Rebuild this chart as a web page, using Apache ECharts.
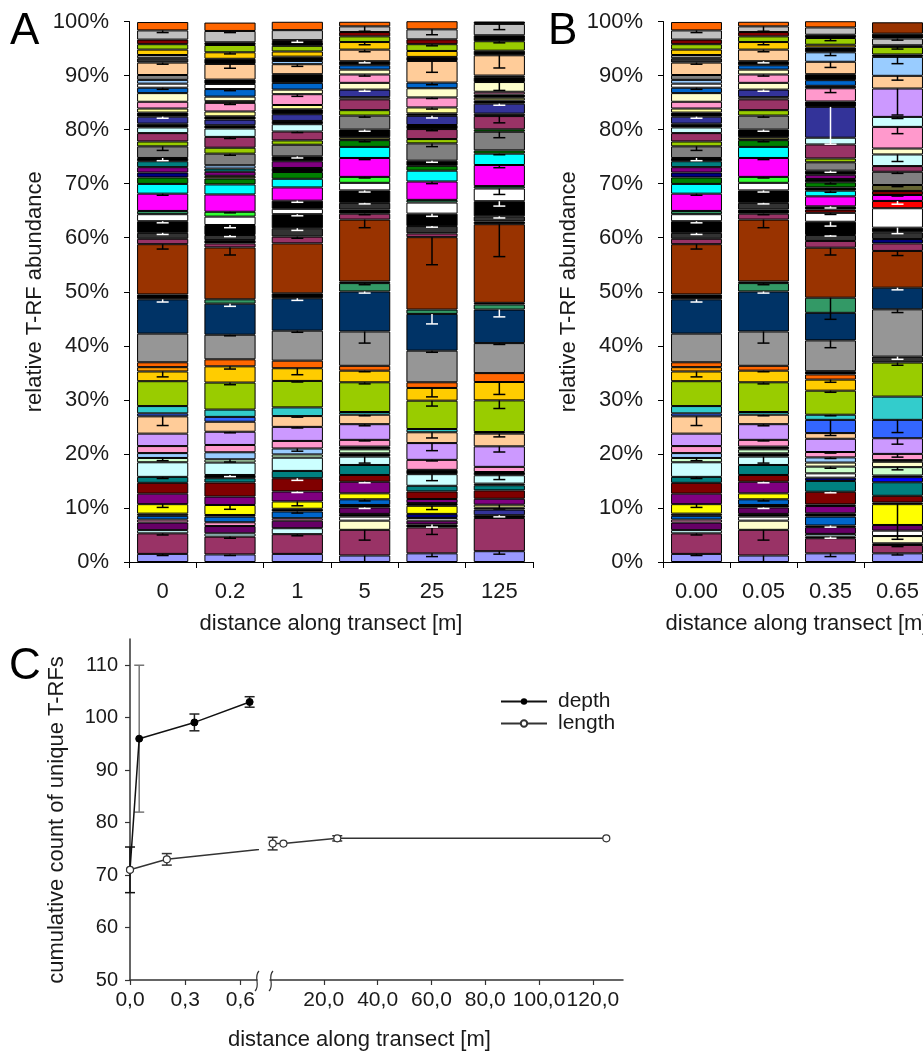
<!DOCTYPE html>
<html>
<head>
<meta charset="utf-8">
<script src="https://cdn.jsdelivr.net/npm/echarts@6/dist/echarts.min.js"></script>
<style>html,body{margin:0;padding:0;background:#fff}#main{width:923px;height:1056px}</style>
</head>
<body>
<div id="main"></div>
<script>
// ---------- DATA ----------
// Panel A: distance along transect (length)
const catsA = ['0', '0.2', '1', '5', '25', '125'];
// Panel B: distance along transect (depth)
const catsB = ['0.00', '0.05', '0.35', '0.65'];

// T-RF colour codes per bar (bottom -> top) and relative abundances [%]
const ids_0 = ['lav','mar','lcy','dpu','pnk','blu','blk','yel','pur','drd','tea','lcy','lgr','lbl','pnk','lil','pea','rbl','tur','ygr','gld','org','ong','gry','nav','blk','brn','mar','dgy','blk','wht','sgr','mag','cyn','grn','nvy','pur','tea','blk','gr8','ygr','mar','lcy','blk','ind','blk','lye','pnk','cre','blu','wht','lbl','gr8','pea','dgy','gry','gld','ygr','drd','sil','ong'];
const val_0 = [1.5,3.8,0.6,1.4,0.55,0.7,0.4,1.75,1.95,2.0,1.1,2.7,0.8,0.9,1.3,2.3,3.2,0.55,1.35,4.6,1.8,0.8,0.9,5.3,6.35,0.9,9.3,1.0,1.1,2.15,1.3,0.6,3.2,1.8,1.2,0.9,1.0,1.1,0.6,2.15,0.9,1.55,1.05,0.7,1.3,0.75,0.75,1.25,1.6,1.0,0.75,0.7,0.9,2.3,0.8,0.6,1.0,1.0,0.85,1.7,1.55];
// error bars: segment index -> SD [%]
const err_0 = {0:0.3, 1:0.3, 7:0.6, 10:0.3, 12:0.5, 16:1.7, 20:1.0, 24:0.5, 26:0.9, 28:0.3, 29:0.3, 32:0.3, 38:0.5, 39:0.75, 44:0.3, 49:0.3, 53:0.3, 59:0.4};

const ids_02 = ['lav','mar','lcy','dpu','pnk','blu','blk','yel','pur','drd','tea','blk','lcy','lgr','lbl','pnk','lil','pea','rbl','tur','ygr','gld','ong','gry','nav','sgr','brn','mar','blk','dgy','blk','wht','lgn','mag','cyn','grn','olv','pur','tea','lbl','gr8','ygr','mar','lcy','blk','ind','blk','lye','pnk','blk','cre','blu','wht','blk','pea','blk','gld','ygr','blk','sil','ong'];
const val_02 = [1.4,3.3,0.6,1.35,0.7,1.05,0.3,1.85,1.55,2.6,0.8,0.6,2.3,0.6,1.3,1.35,2.45,1.85,0.9,1.35,5.0,3.0,1.3,4.55,5.75,0.8,9.6,0.75,0.6,0.95,1.85,1.55,0.9,3.2,1.85,1.1,0.5,0.75,0.6,0.6,2.15,1.1,2.0,1.55,0.6,1.05,0.6,0.9,1.6,0.3,0.85,1.4,0.95,0.8,2.9,0.95,1.2,1.35,0.5,2.1,1.55];
const err_02 = {0:0.2, 1:0.3, 7:0.8, 11:0.3, 13:0.5, 16:0.2, 20:0.4, 21:0.5, 23:0.2, 24:0.5, 26:1.4, 29:0.3, 30:0.5, 32:0.2, 40:0.3, 42:0.3, 48:0.3, 51:0.3, 54:0.8, 56:0.3, 59:0.3};

const ids_1 = ['lav','mar','lcy','dpu','pnk','blu','blk','yel','pur','drd','tea','lcy','lgr','lbl','pnk','lil','pea','tur','ygr','gld','ong','gry','nav','blk','brn','mar','dgy','blk','wht','blk','mag','cyn','grn','blk','pur','blk','gr8','ygr','mar','lcy','blk','ind','blk','lye','pnk','cre','blu','blk','pea','lbl','blk','gld','ygr','blk','drd','sil','ong'];
const val_1 = [1.5,3.65,1.1,1.4,0.45,1.25,0.5,1.35,1.85,2.45,1.35,2.45,0.6,1.1,1.4,2.6,2.0,1.6,4.9,2.35,1.4,5.55,6.0,0.9,9.25,1.25,1.55,2.6,1.0,1.5,2.45,1.6,1.25,0.75,1.25,0.9,2.15,0.8,1.65,1.35,0.6,1.25,0.9,0.8,2.0,0.85,1.25,1.6,1.85,0.6,0.8,0.95,1.05,0.7,0.35,1.85,1.55];
const err_1 = {1:0.3, 5:0.3, 7:0.8, 8:0.2, 9:0.4, 13:0.5, 15:0.2, 16:0.2, 18:0.2, 19:1.2, 21:0.3, 22:0.4, 25:0.3, 26:0.4, 27:0.3, 29:0.3, 35:0.3, 38:0.2, 44:0.4, 48:0.4, 54:0.4};

const ids_5 = ['lav','mar','cre','wht','blk','dpu','blk','blu','yel','pur','drd','tea','lcy','blk','lgr','blk','pnk','lil','pea','tur','ygr','gld','ong','gry','nav','sgr','blk','brn','mar','blk','dgy','blk','wht','lgn','mag','cyn','grn','olv','blk','gr8','ygr','mar','wht','ind','cre','pnk','cre','blu','blk','pea','gld','ygr','drd','sil','ong'];
const val_5 = [1.2,4.75,1.7,0.75,0.5,1.2,0.45,1.05,1.1,2.15,1.25,1.85,1.55,0.6,0.75,0.5,1.25,2.9,1.75,0.5,5.5,2.15,0.9,6.35,7.4,1.55,0.3,11.45,1.1,0.75,1.25,2.3,1.4,1.1,3.5,2.05,1.25,0.55,1.4,2.6,1.0,2.0,0.4,1.4,1.25,1.55,0.9,0.8,0.75,2.15,1.4,1.05,0.8,1.05,0.85];
const err_5 = {0:1.2, 1:1.9, 5:0.2, 7:0.3, 9:0.2, 12:1.2, 16:0.2, 17:0.3, 18:0.2, 20:0.3, 21:0.2, 23:2.15, 24:0.3, 25:0.3, 27:1.5, 28:0.2, 30:0.2, 31:0.3, 33:0.2, 34:0.3, 36:0.3, 38:0.3, 39:0.3, 43:0.3, 45:0.3, 48:0.3, 49:0.4, 50:0.5, 53:0.9};

const ids_25 = ['lav','mar','blk','dpu','wht','nvy','yel','blk','pur','drd','tea','lcy','blk','pnk','lil','pea','tur','ygr','gld','ong','gry','nav','sgr','brn','mar','dgy','blk','wht','sgr','mag','cyn','grn','blk','gr8','ygr','mar','blk','ind','blk','lye','pnk','cre','blu','pea','blk','gld','ygr','drd','sil','ong'];
const val_25 = [1.6,4.8,0.55,0.7,0.5,0.75,1.5,0.5,0.75,1.4,1.05,2.15,0.8,1.85,3.1,2.0,0.6,5.25,2.35,1.05,5.85,6.8,0.8,13.4,0.7,1.35,2.3,2.05,0.5,3.4,2.0,0.9,0.95,3.2,0.8,1.85,0.75,1.7,0.45,1.1,1.85,1.7,1.05,4.0,0.75,1.1,1.25,0.9,1.85,1.5];
const err_25 = {0:0.6, 1:1.3, 2:0.5, 6:0.7, 11:1.2, 13:0.2, 14:1.4, 15:1.05, 17:1.0, 18:1.65, 20:0.3, 21:1.85, 23:5.1, 25:0.2, 26:0.5, 29:0.4, 32:0.3, 33:0.6, 35:0.3, 37:0.4, 39:0.3, 40:0.2, 42:0.4, 43:2.1, 46:0.3, 48:1.0};

const ids_125 = ['lav','mar','blk','ind','blk','lye','pur','drd','tea','blk','lcy','blk','pnk','lil','pea','blk','ygr','gld','ong','gry','nav','sgr','blk','brn','blk','dgy','blk','wht','sgr','mag','cyn','grn','gr8','grn','mar','blk','ind','blk','lye','blk','pnk','cre','blk','gry','pea','blk','ygr','blk','sil','blk'];
const val_125 = [2.0,6.15,0.5,1.05,0.35,0.55,1.1,1.55,0.95,0.3,1.55,0.6,0.95,3.8,2.35,0.3,5.85,3.4,1.65,5.55,6.2,0.95,0.3,14.55,0.5,0.95,2.8,2.35,0.45,3.9,2.1,0.6,3.45,0.45,2.45,0.45,1.85,0.6,0.5,0.6,0.5,1.8,0.9,0.3,3.75,0.85,1.75,1.1,2.1,0.45];
const err_125 = {0:0.55, 2:0.3, 5:0.8, 10:0.8, 13:1.05, 14:0.6, 16:1.5, 17:2.3, 19:0.25, 20:1.35, 23:6.0, 25:0.3, 26:0.9, 27:1.1, 29:0.5, 30:0.2, 32:1.1, 34:1.25, 36:0.3, 41:1.55, 44:2.35, 46:0.3, 48:1.05};

// depth samples (0.00 and 0.05 m bars look identical to the 0 m and 5 m bars)
const ids_d000 = ids_0, val_d000 = val_0, err_d000 = err_0;
const ids_d005 = ids_5, val_d005 = val_5, err_d005 = err_5;
const ids_d035 = ['lav','mar','blk','lcy','dpu','blk','blu','blk','pur','blk','drd','tea','nvy','wht','lgr','cre','lbl','pnk','lil','pea','rbl','tur','ygr','gld','ong','blk','gry','nav','sgr','brn','mar','dgy','blk','wht','drd','blk','mag','cyn','blk','grn','blk','pur','blk','gr8','ygr','mar','lcy','ind','blk','pnk','blk','blu','blk','pea','lbl','blk','gld','ygr','blk','sil','ong'];
const val_d035 = [1.6,2.8,0.3,0.5,1.25,0.3,1.65,0.6,1.35,0.3,2.35,2.0,0.6,0.8,1.25,0.75,0.95,1.0,2.45,1.05,2.45,0.95,4.45,2.05,0.95,0.6,5.7,5.1,2.8,9.25,1.25,1.1,2.45,1.65,0.6,0.6,1.85,1.05,0.6,0.95,0.6,0.8,0.75,1.55,0.7,2.6,1.25,5.7,1.0,2.45,0.45,1.05,1.1,2.3,1.75,0.9,0.5,1.25,0.6,1.35,1.15];
const err_d035 = {0:0.6, 2:0.3, 5:0.3, 10:0.2, 14:0.3, 16:0.2, 17:0.2, 20:2.9, 21:0.2, 22:0.3, 23:0.5, 26:1.35, 28:4.0, 29:1.35, 31:0.2, 32:0.8, 33:0.3, 35:0.3, 37:0.3, 39:0.3, 42:0.3, 47:6.9, 49:0.8, 53:1.05, 54:0.6, 57:0.5};
const ids_d065 = ['lav','mar','blk','cre','wht','dpu','yel','blk','drd','tea','bblu','blk','lgr','cre','blk','pnk','lil','rbl','tur','ygr','dgy','gry','nav','brn','mar','nvy','dgy','blk','wht','red','mag','drd','olv','gr8','mar','lcy','cre','pnk','lcy','lil','pea','lbl','blk','ygr','blk','sil','blk','brn'];
const val_d065 = [1.6,1.55,0.3,1.35,1.0,1.05,3.85,0.3,1.25,2.5,0.95,0.3,1.55,1.0,0.3,1.15,2.9,3.4,4.3,6.3,1.1,8.75,4.0,6.8,1.4,0.8,1.25,0.85,3.6,1.35,1.1,0.75,1.1,2.45,1.05,2.15,1.1,4.0,1.85,5.25,2.35,3.5,0.45,1.4,0.3,1.25,0.9,2.1];
const err_d065 = {0:0.3, 1:0.3, 6:6.5, 12:0.5, 15:0.6, 16:1.1, 17:2.35, 19:0.5, 20:0.5, 21:0.6, 22:0.4, 23:0.85, 27:1.1, 29:0.6, 30:0.2, 32:0.3, 33:0.3, 35:1.3, 37:1.25, 38:0.3, 39:4.9, 40:0.8, 41:1.25, 43:0.4, 45:0.3};

// Panel C: cumulative count of unique T-RFs
const depthX = [0, 0.05, 0.35, 0.65];
const depthY = [71, 96, 99.1, 103];
const depthErr = [4.35, 14, 1.6, 1];
const lengthX = [0, 0.2, 1, 5, 25, 125];
const lengthY = [71, 73, 76, 76, 77, 77];
const lengthErr = [0, 1.1, 1.2, 0, 0.5, 0];
const cYTicks = [50, 60, 70, 80, 90, 100, 110];
const cXTicksLow = [0, 0.3, 0.6];
const cXTicksHigh = [20, 40, 60, 80, 100, 120];

// ---------- STYLE ----------
const palette = {lav:'#9999FF', mar:'#993366', lcy:'#CCFFFF', dpu:'#660066', pnk:'#FF99CC', blu:'#0066CC', blk:'#000000', yel:'#FFFF00', pur:'#800080', drd:'#800000', tea:'#008080', lgr:'#CCFFCC', lbl:'#99CCFF', lil:'#CC99FF', pea:'#FFCC99', rbl:'#3366FF', tur:'#33CCCC', ygr:'#99CC00', gld:'#FFCC00', org:'#FF9900', ong:'#FF6600', gry:'#969696', nav:'#003366', brn:'#993300', dgy:'#333333', wht:'#FFFFFF', sgr:'#339966', mag:'#FF00FF', cyn:'#00FFFF', grn:'#008000', nvy:'#000080', gr8:'#808080', ind:'#333399', lye:'#FFFF99', cre:'#FFFFCC', sil:'#C0C0C0', red:'#FF0000', bblu:'#0000FF', lgn:'#33FF33', olv:'#666633'};
const FONT = '"Liberation Sans", Arial, sans-serif';
const TXT = '#1a1a1a';
const depthErrStroke = ['#111', '#777', '#222', '#222'];

const barsA = [[ids_0,val_0,err_0],[ids_02,val_02,err_02],[ids_1,val_1,err_1],[ids_5,val_5,err_5],[ids_25,val_25,err_25],[ids_125,val_125,err_125]];
const barsB = [[ids_d000,val_d000,err_d000],[ids_d005,val_d005,err_d005],[ids_d035,val_d035,err_d035],[ids_d065,val_d065,err_d065]];

function lum(hex) {
  const r = parseInt(hex.slice(1,3),16)/255, g = parseInt(hex.slice(3,5),16)/255, b = parseInt(hex.slice(5,7),16)/255;
  return 0.2126*r + 0.7152*g + 0.0722*b;
}

function stackSeries(bars, axisIdx, stackName) {
  const n = Math.max(...bars.map(b => b[1].length));
  const out = [];
  for (let k = 0; k < n; k++) {
    out.push({
      type: 'bar', xAxisIndex: axisIdx, yAxisIndex: axisIdx, stack: stackName,
      barWidth: '76%', silent: true,
      itemStyle: {borderColor: '#000', borderWidth: 1},
      data: bars.map(b => k < b[1].length ? {value: b[1][k], itemStyle: {color: palette[b[0][k]]}} : '-')
    });
  }
  // error bars drawn downward from the top of each segment
  const errData = [];
  bars.forEach((b, i) => {
    let cum = 0;
    b[1].forEach((v, k) => {
      cum += v;
      if (b[2][k]) errData.push([i, cum, b[2][k], lum(palette[b[0][k]]) < 0.24 ? 1 : 0]);
    });
  });
  out.push({
    type: 'custom', xAxisIndex: axisIdx, yAxisIndex: axisIdx, silent: true, z: 3,
    renderItem: function (params, api) {
      const i = api.value(0), top = api.value(1), e = api.value(2);
      const p1 = api.coord([i, top]), p2 = api.coord([i, top - e]);
      const st = {stroke: api.value(3) ? '#fff' : '#000', lineWidth: 1.5};
      return {type: 'group', children: [
        {type: 'line', shape: {x1: p1[0], y1: p1[1], x2: p2[0], y2: p2[1]}, style: st},
        {type: 'line', shape: {x1: p2[0] - 6, y1: p2[1], x2: p2[0] + 6, y2: p2[1]}, style: st}
      ]};
    },
    encode: {x: 0, y: 1},
    data: errData
  });
  return out;
}

function catAxis(idx, cats) {
  return {
    type: 'category', gridIndex: idx, data: cats,
    axisLine: {lineStyle: {color: '#000', width: 1}},
    axisTick: {show: true, length: 6, lineStyle: {color: '#000'}},
    axisLabel: {fontFamily: FONT, fontSize: 22, color: TXT, margin: 19},
    name: 'distance along transect [m]', nameLocation: 'middle', nameGap: 51,
    nameTextStyle: {fontFamily: FONT, fontSize: 22, color: TXT}
  };
}
function pctAxis(idx) {
  return {
    type: 'value', gridIndex: idx, min: 0, max: 100, interval: 10,
    axisLine: {show: true, lineStyle: {color: '#000', width: 1}},
    axisTick: {show: true, length: 5, lineStyle: {color: '#000'}},
    splitLine: {show: false},
    axisLabel: {fontFamily: FONT, fontSize: 22, color: TXT, margin: 20, formatter: '{value}%'},
    name: 'relative T-RF abundance', nameLocation: 'middle', nameGap: 83, nameRotate: 90,
    nameTextStyle: {fontFamily: FONT, fontSize: 22, color: TXT}
  };
}

function errSeries(name, axisIdx, xs, ys, es, strokes) {
  const data = [];
  xs.forEach((x, i) => { if (es[i] > 0) data.push([x, ys[i] - es[i], ys[i] + es[i], i]); });
  return {
    type: 'custom', name: name, xAxisIndex: axisIdx, yAxisIndex: axisIdx, silent: true, z: 4,
    clip: false,
    renderItem: function (params, api) {
      const x = api.value(0);
      const p1 = api.coord([x, api.value(1)]), p2 = api.coord([x, api.value(2)]);
      const c = strokes[api.value(3)];
      const w = 5;
      const st = {stroke: c, lineWidth: 1.5};
      return {type: 'group', children: [
        {type: 'line', shape: {x1: p1[0], y1: p1[1], x2: p2[0], y2: p2[1]}, style: st},
        {type: 'line', shape: {x1: p1[0] - w, y1: p1[1], x2: p1[0] + w, y2: p1[1]}, style: st},
        {type: 'line', shape: {x1: p2[0] - w, y1: p2[1], x2: p2[0] + w, y2: p2[1]}, style: st}
      ]};
    },
    encode: {x: 0, y: [1, 2]},
    data: data
  };
}

const cLowMax = 0.69, cHighMax = 131.2;
// split length series at the axis break
const lenLow = [], lenHigh = [];
let passed = false;
lengthX.forEach((x, i) => {
  if (x <= cLowMax) lenLow.push([x, lengthY[i]]);
  else {
    if (!passed) { lenLow.push({value: [x, lengthY[i]], symbol: 'none'}); passed = true; }
    lenHigh.push([x, lengthY[i]]);
  }
});
const lenErrLowIdx = lengthX.map((x, i) => x <= cLowMax ? lengthErr[i] : 0);
const lenErrHighIdx = lengthX.map((x, i) => x > cLowMax ? lengthErr[i] : 0);
const lenStroke = lengthX.map(() => '#333');

const cAxisLine = {lineStyle: {color: '#333', width: 1.5}};
const cTick = {length: 5, lineStyle: {color: '#333', width: 1.2}};
const comma = v => v.toFixed(1).replace('.', ',');

const chart = echarts.init(document.getElementById('main'), null, {renderer: 'canvas'});
const gridBase = {outerBoundsMode: 'none', containLabel: false};
const option = {
  animation: false,
  backgroundColor: '#fff',
  textStyle: {fontFamily: FONT},
  grid: [
    Object.assign({left: 129, top: 21.5, width: 404, height: 540.5}, gridBase),
    Object.assign({left: 663, top: 21.5, width: 268, height: 540.5}, gridBase),
    Object.assign({left: 130, top: 639, width: 127, height: 341}, gridBase),
    Object.assign({left: 270, top: 639, width: 353, height: 341}, gridBase)
  ],
  xAxis: [
    catAxis(0, catsA),
    catAxis(1, catsB),
    {type: 'value', gridIndex: 2, min: 0, max: cLowMax,
     axisLine: cAxisLine, axisTick: Object.assign({customValues: cXTicksLow}, cTick), splitLine: {show: false},
     axisLabel: {customValues: cXTicksLow, formatter: comma, margin: 10, fontFamily: FONT, fontSize: 21, color: TXT}},
    {type: 'value', gridIndex: 3, min: 0, max: cHighMax,
     axisLine: cAxisLine, axisTick: Object.assign({customValues: cXTicksHigh}, cTick), splitLine: {show: false},
     axisLabel: {customValues: cXTicksHigh, formatter: comma, margin: 10, fontFamily: FONT, fontSize: 21, color: TXT}}
  ],
  yAxis: [
    pctAxis(0),
    pctAxis(1),
    {type: 'value', gridIndex: 2, min: 50, max: 115,
     axisLine: Object.assign({show: true}, cAxisLine), axisTick: Object.assign({show: true, customValues: cYTicks}, cTick),
     splitLine: {show: false},
     axisLabel: {customValues: cYTicks, margin: 12, fontFamily: FONT, fontSize: 20, color: TXT}},
    {type: 'value', gridIndex: 3, min: 50, max: 115, show: false}
  ],
  legend: {
    left: 495, top: 686, orient: 'vertical', itemGap: 1, itemWidth: 46, itemHeight: 8,
    data: ['depth', 'length'],
    textStyle: {fontFamily: FONT, fontSize: 21, color: TXT, padding: [0, 0, 0, 6]},
    selectedMode: false
  },
  series: [].concat(
    stackSeries(barsA, 0, 'A'),
    stackSeries(barsB, 1, 'B'),
    [
      errSeries('depthErr', 2, depthX, depthY, depthErr, depthErrStroke),
      errSeries('lengthErrLow', 2, lengthX, lengthY, lenErrLowIdx, lenStroke),
      errSeries('lengthErrHigh', 3, lengthX, lengthY, lenErrHighIdx, lenStroke),
      {name: 'depth', type: 'line', xAxisIndex: 2, yAxisIndex: 2, z: 5,
       data: depthX.map((x, i) => [x, depthY[i]]),
       symbol: 'circle', symbolSize: 7, itemStyle: {color: '#000', borderColor: '#000'},
       lineStyle: {color: '#111', width: 1.5}},
      {name: 'length', type: 'line', xAxisIndex: 2, yAxisIndex: 2, z: 5, clip: true,
       data: lenLow, symbol: 'circle', symbolSize: 7,
       itemStyle: {color: '#fff', borderColor: '#333', borderWidth: 1.2},
       lineStyle: {color: '#333', width: 1.5}},
      {name: 'length', type: 'line', xAxisIndex: 3, yAxisIndex: 3, z: 5, clip: true,
       data: lenHigh, symbol: 'circle', symbolSize: 7,
       itemStyle: {color: '#fff', borderColor: '#333', borderWidth: 1.2},
       lineStyle: {color: '#333', width: 1.5}}
    ]
  ),
  graphic: [
    {type: 'text', left: 10, top: 10, style: {text: 'A', font: '44px ' + FONT, fill: '#000'}},
    {type: 'text', left: 548, top: 10, style: {text: 'B', font: '44px ' + FONT, fill: '#000'}},
    {type: 'text', left: 9, top: 645, style: {text: 'C', font: '44px ' + FONT, fill: '#000'}},
    {type: 'text', x: 57, y: 820, rotation: Math.PI / 2,
     style: {text: 'cumulative count of unique T-RFs', font: '22px ' + FONT, fill: TXT, align: 'center', verticalAlign: 'middle'}},
    {type: 'text', left: 228, top: 1029, style: {text: 'distance along transect [m]', font: '22px ' + FONT, fill: TXT}},
    {type: 'bezierCurve', shape: {x1: 259, y1: 971, cpx1: 253, cpy1: 977, cpx2: 261, cpy2: 985, x2: 255, y2: 991}, style: {stroke: '#333', lineWidth: 1.2, fill: null}},
    {type: 'bezierCurve', shape: {x1: 273, y1: 971, cpx1: 267, cpy1: 977, cpx2: 275, cpy2: 985, x2: 269, y2: 991}, style: {stroke: '#333', lineWidth: 1.2, fill: null}}
  ]
};
chart.setOption(option);
</script>
</body>
</html>
